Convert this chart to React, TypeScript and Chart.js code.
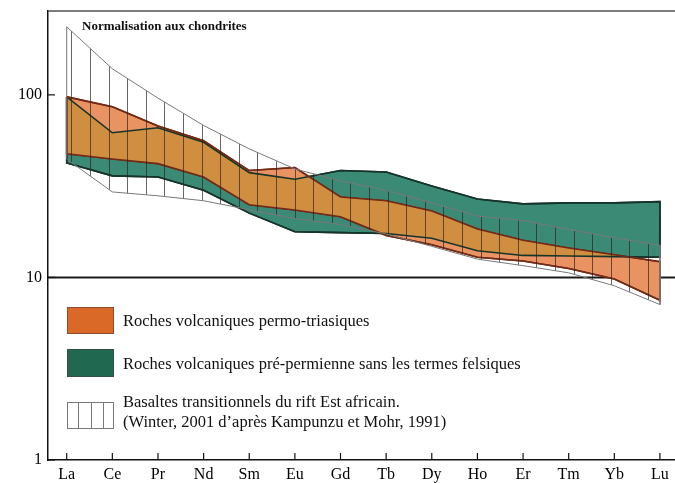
import React, { useEffect, useRef } from 'react';
import { Chart, registerables } from 'chart.js';

Chart.register(...registerables);

// ---------- data (chondrite-normalised REE) ----------
const elements = ['La', 'Ce', 'Pr', 'Nd', 'Sm', 'Eu', 'Gd', 'Tb', 'Dy', 'Ho', 'Er', 'Tm', 'Yb', 'Lu'];
const yTicks = [1, 10, 100];

// Roches volcaniques permo-triasiques (orange band)
const permoTop = [97.5, 86, 67.5, 56, 38.5, 40, 27.6, 26.3, 23.1, 18.4, 16, 14.5, 13.3, 12.2];
const permoBottom = [47.5, 44.5, 42, 35.5, 25, 23.4, 21.5, 17, 15.1, 12.9, 12.3, 11.2, 9.8, 7.5];

// Roches volcaniques pré-permiennes (green band)
const prePermTop = [97.5, 62, 66, 55, 37.5, 34.5, 38.5, 37.8, 31.7, 26.9, 25.3, 25.6, 25.6, 26];
const prePermBottom = [42.4, 36, 35.5, 30, 22.5, 17.8, 17.6, 17.4, 16.4, 14, 13.2, 13.1, 13, 12.9];

// Basaltes transitionnels du rift Est africain (hatched band)
const riftTop = [236, 139, 96, 68, 50.6, 39.3, 33.8, 30, 25.6, 21.7, 20.5, 18.3, 16.5, 15];
const riftBottom = [44.5, 29.4, 28, 26.3, 23.5, 21, 19.5, 17.3, 14.8, 12.6, 11.6, 10.6, 9, 7.1];

const titleText = 'Normalisation aux chondrites';
const legendPermo = 'Roches volcaniques permo-triasiques';
const legendPrePerm = 'Roches volcaniques pré-permienne sans les termes felsiques';
const legendRift = ['Basaltes transitionnels du rift Est africain.', '(Winter, 2001 d’après Kampunzu et Mohr, 1991)'];

// ---------- styles ----------
const FONT = "'Liberation Serif', 'Times New Roman', Times, serif";
const SALMON = 'rgb(233,146,98)';
const TEAL = 'rgb(58,138,118)';
const OCHRE = 'rgb(208,143,64)';
const ORANGE_EDGE = 'rgb(115,42,22)';
const GREEN_EDGE = 'rgb(22,52,42)';
const HATCH_EDGE = 'rgb(120,120,120)';

const band = (top: number[], bottom: number[]) => [
  ...top.map((y, i) => ({ x: i, y })),
  ...bottom.map((y, i) => ({ x: i, y })).reverse(),
  { x: 0, y: top[0] },
];

const tracePath = (ctx: CanvasRenderingContext2D, pts: any[]) => {
  ctx.beginPath();
  pts.forEach((p, i) => (i ? ctx.lineTo(p.x, p.y) : ctx.moveTo(p.x, p.y)));
  ctx.closePath();
};

const overlapPlugin = {
  id: 'overlap',
  afterDatasetDraw(chart: any, args: any) {
    if (args.index !== 1) return;
    const ctx: CanvasRenderingContext2D = chart.ctx;
    const oMeta = chart.getDatasetMeta(1);
    const gMeta = chart.getDatasetMeta(2);
    ctx.save();
    tracePath(ctx, gMeta.data);
    ctx.clip();
    tracePath(ctx, oMeta.data);
    ctx.fillStyle = OCHRE;
    ctx.fill();
    ctx.restore();
    gMeta.dataset.draw(ctx, chart.chartArea);
    oMeta.dataset.draw(ctx, chart.chartArea);
  },
};

const decorPlugin = {
  id: 'decor',
  beforeDatasetsDraw(chart: any) {
    const { ctx, chartArea: a, scales } = chart;
    const py = scales.y.getPixelForValue(10);
    ctx.save();
    ctx.strokeStyle = '#1a1a1a';
    ctx.lineWidth = 2;
    ctx.beginPath();
    ctx.moveTo(a.left, py);
    ctx.lineTo(a.right, py);
    ctx.stroke();
    ctx.restore();
  },
  afterDraw(chart: any) {
    const { ctx, chartArea: a, scales } = chart;
    ctx.save();
    // top frame
    ctx.strokeStyle = 'rgb(80,80,80)';
    ctx.lineWidth = 1.5;
    ctx.beginPath();
    ctx.moveTo(a.left, a.top);
    ctx.lineTo(a.right, a.top);
    ctx.stroke();
    // inward ticks
    ctx.strokeStyle = '#111';
    ctx.lineWidth = 1.2;
    elements.forEach((_, i) => {
      const px = scales.x.getPixelForValue(i);
      ctx.beginPath();
      ctx.moveTo(px, a.bottom);
      ctx.lineTo(px, a.bottom - 7);
      ctx.stroke();
    });
    yTicks.forEach((v) => {
      const py = scales.y.getPixelForValue(v);
      ctx.beginPath();
      ctx.moveTo(a.left, py);
      ctx.lineTo(a.left + 7, py);
      ctx.stroke();
    });
    // title
    ctx.fillStyle = '#111';
    ctx.font = `bold 13px ${FONT}`;
    ctx.textAlign = 'left';
    ctx.textBaseline = 'middle';
    ctx.fillText(titleText, 82, 27);

    // legend
    const sx = 67, sw = 46;
    ctx.lineWidth = 1;
    ctx.fillStyle = 'rgb(218,104,38)';
    ctx.fillRect(sx, 307, sw, 26);
    ctx.strokeStyle = 'rgb(140,75,50)';
    ctx.strokeRect(sx + 0.5, 307.5, sw, 26);
    ctx.fillStyle = 'rgb(32,104,80)';
    ctx.fillRect(sx, 349, sw, 27);
    ctx.strokeStyle = 'rgb(50,80,70)';
    ctx.strokeRect(sx + 0.5, 349.5, sw, 27);
    ctx.strokeStyle = 'rgb(120,120,120)';
    ctx.strokeRect(sx + 0.5, 402.5, sw, 26);
    [78, 91, 103].forEach((lx) => {
      ctx.beginPath();
      ctx.moveTo(lx + 0.5, 402.5);
      ctx.lineTo(lx + 0.5, 428.5);
      ctx.stroke();
    });

    ctx.fillStyle = '#111';
    ctx.font = `16.5px ${FONT}`;
    ctx.fillText(legendPermo, 123, 322);
    ctx.fillText(legendPrePerm, 123, 365);
    ctx.fillText(legendRift[0], 123, 403);
    ctx.fillText(legendRift[1], 123, 423);
    ctx.restore();
  },
};

export default function App() {
  const ref = useRef<HTMLCanvasElement>(null);

  useEffect(() => {
    const canvas = ref.current!;
    const ctx = canvas.getContext('2d')!;

    const pc = document.createElement('canvas');
    pc.width = 93;
    pc.height = 8;
    const pctx = pc.getContext('2d')!;
    pctx.fillStyle = 'rgba(45,35,30,0.7)';
    for (let k = 0; k < 5; k++) pctx.fillRect(Math.round(15.6 + 18.6 * k), 0, 1, 8);
    const hatch = ctx.createPattern(pc, 'repeat');

    const chart = new Chart(ctx, {
      type: 'line',
      data: {
        datasets: [
          {
            label: legendRift.join(' '),
            data: band(riftTop, riftBottom),
            borderColor: HATCH_EDGE,
            borderWidth: 1,
            backgroundColor: hatch as any,
            fill: 'shape',
          },
          {
            label: legendPermo,
            data: band(permoTop, permoBottom),
            borderColor: ORANGE_EDGE,
            borderWidth: 1.6,
            backgroundColor: SALMON,
            fill: 'shape',
          },
          {
            label: legendPrePerm,
            data: band(prePermTop, prePermBottom),
            borderColor: GREEN_EDGE,
            borderWidth: 1.6,
            backgroundColor: TEAL,
            fill: 'shape',
          },
        ] as any,
      },
      options: {
        animation: false,
        responsive: false,
        devicePixelRatio: 1,
        layout: { padding: { top: 11, left: 0, right: 0, bottom: 0 } },
        elements: { point: { radius: 0 }, line: { tension: 0 } },
        plugins: {
          legend: { display: false },
          tooltip: { enabled: false },
        },
        scales: {
          x: {
            type: 'linear',
            min: -0.41,
            max: 13.33,
            afterBuildTicks: (s: any) => {
              s.ticks = elements.map((_, i) => ({ value: i }));
            },
            afterFit: (s: any) => {
              s.height = 23;
              s.paddingLeft = 0;
              s.paddingRight = 0;
            },
            grid: { display: false, drawTicks: false },
            border: { display: true, color: '#111', width: 1.5 },
            ticks: {
              autoSkip: false,
              maxRotation: 0,
              padding: 5,
              color: '#000',
              font: { family: FONT, size: 16 },
              callback: (v: any) => elements[v] ?? '',
            },
          },
          y: {
            type: 'logarithmic',
            min: 1,
            max: 288,
            afterBuildTicks: (s: any) => {
              s.ticks = yTicks.map((v) => ({ value: v }));
            },
            afterFit: (s: any) => {
              s.width = 48;
              s.paddingTop = 0;
              s.paddingBottom = 0;
            },
            grid: { display: false, drawTicks: false },
            border: { display: true, color: '#111', width: 1.5 },
            ticks: {
              padding: 6,
              color: '#000',
              font: { family: FONT, size: 16 },
              callback: (v: any) => String(v),
            },
          },
        } as any,
      },
      plugins: [overlapPlugin, decorPlugin],
    });
    return () => chart.destroy();
  }, []);

  return (
    <div style={{ position: 'absolute', left: 0, top: 0, width: 675, height: 483, background: '#fff' }}>
      <canvas ref={ref} width={675} height={483} style={{ display: 'block' }} />
    </div>
  );
}
